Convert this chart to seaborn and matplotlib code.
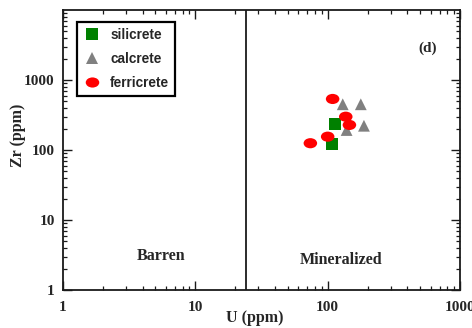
import numpy as np
import pandas as pd
import matplotlib
matplotlib.use("Agg")
import matplotlib.pyplot as plt
import seaborn as sns
from matplotlib.path import Path
from matplotlib.ticker import LogLocator, NullFormatter, FixedLocator, FixedFormatter

# ---- data ----
categories = ["silicrete", "calcrete", "ferricrete"]
silicrete_u = [113, 108]
silicrete_zr = [233, 121]
calcrete_u = [130, 178, 188, 139]
calcrete_zr = [450, 450, 222, 193]
ferricrete_u = [109, 137, 146, 100, 74]
ferricrete_zr = [536, 299, 228, 155, 125]
threshold_u = 24
x_ticks = [1, 10, 100, 1000]
x_tick_labels = ["1", "10", "100", "1000"]
y_ticks = [1, 10, 100, 1000]
y_tick_labels = ["1", "10", "100", "1000"]

df = pd.DataFrame({
    "U": silicrete_u + calcrete_u + ferricrete_u,
    "Zr": silicrete_zr + calcrete_zr + ferricrete_zr,
    "type": ["silicrete"] * len(silicrete_u) + ["calcrete"] * len(calcrete_u)
            + ["ferricrete"] * len(ferricrete_u),
})

sns.set_style("ticks")
plt.rcParams["font.family"] = ["Liberation Serif", "DejaVu Serif"]

fig = plt.figure(figsize=(4.72, 3.28), dpi=100)
ax = fig.add_axes([63 / 472, 38 / 328, 397 / 472, 280 / 328])

circ = Path.unit_circle()
ellipse = Path(circ.vertices * np.array([1.0, 0.75]), circ.codes)

palette = {"silicrete": "#008000", "calcrete": "#808080", "ferricrete": "#ff0000"}
markers = {"silicrete": "s", "calcrete": "^", "ferricrete": ellipse}
sizes = {"silicrete": 72, "calcrete": 72, "ferricrete": 95}

sns.scatterplot(data=df, x="U", y="Zr", hue="type", style="type", size="type",
                hue_order=categories, style_order=categories, size_order=categories,
                palette=palette, markers=markers, sizes=sizes,
                linewidth=0, alpha=1, ax=ax, legend="full", zorder=3)

ax.set_xscale("log")
ax.set_yscale("log")
ax.set_xlim(1, 1000)
ax.set_ylim(1, 10000)
ax.axvline(threshold_u, color="#1a1a1a", lw=1.3, zorder=2)

ax.xaxis.set_major_locator(FixedLocator(x_ticks))
ax.xaxis.set_major_formatter(FixedFormatter(x_tick_labels))
ax.yaxis.set_major_locator(FixedLocator(y_ticks))
ax.yaxis.set_major_formatter(FixedFormatter(y_tick_labels))
ax.xaxis.set_minor_locator(LogLocator(base=10, subs=np.arange(2, 10), numticks=20))
ax.yaxis.set_minor_locator(LogLocator(base=10, subs=np.arange(2, 10), numticks=20))
ax.xaxis.set_minor_formatter(NullFormatter())
ax.yaxis.set_minor_formatter(NullFormatter())

ax.tick_params(which="both", direction="in", top=True, right=True, color="#1a1a1a")
ax.tick_params(which="major", length=6.5, width=1.0)
ax.tick_params(which="minor", length=3, width=0.9)
ax.tick_params(axis="x", which="major", pad=8)
ax.tick_params(axis="y", which="major", pad=6)
for lab in ax.get_xticklabels() + ax.get_yticklabels():
    lab.set_fontsize(11)
    lab.set_fontweight("bold")
for sp in ax.spines.values():
    sp.set_linewidth(1.3)
    sp.set_color("#1a1a1a")

ax.set_xlabel("U (ppm)", fontsize=11.5, fontweight="bold")
ax.set_ylabel("Zr (ppm)", fontsize=11.5, fontweight="bold")
ax.xaxis.set_label_coords(0.482, -0.072)
ax.yaxis.set_label_coords(-0.093, 0.554)

ax.text(0.248, 0.121, "Barren", transform=ax.transAxes, ha="center", va="center",
        fontsize=11.5, fontweight="bold")
ax.text(0.700, 0.107, "Mineralized", transform=ax.transAxes, ha="center", va="center",
        fontsize=11.5, fontweight="bold")
ax.text(0.919, 0.864, "(d)", transform=ax.transAxes, ha="center", va="center",
        fontsize=11, fontweight="bold")

handles, labels = ax.get_legend_handles_labels()
pairs = [(h, l) for h, l in zip(handles, labels) if l in categories]
leg = ax.legend([p[0] for p in pairs], [p[1] for p in pairs],
                loc="upper left", bbox_to_anchor=(0.035, 0.957),
                frameon=True, fancybox=False, edgecolor="black",
                prop={"family": "Liberation Sans", "weight": "bold", "size": 9.8},
                borderpad=0.45, labelspacing=0.72, handlelength=1.3,
                handletextpad=0.7, borderaxespad=0)
leg.get_frame().set_linewidth(1.6)
leg.get_frame().set_alpha(1)

fig.savefig("out.png", dpi=100)
